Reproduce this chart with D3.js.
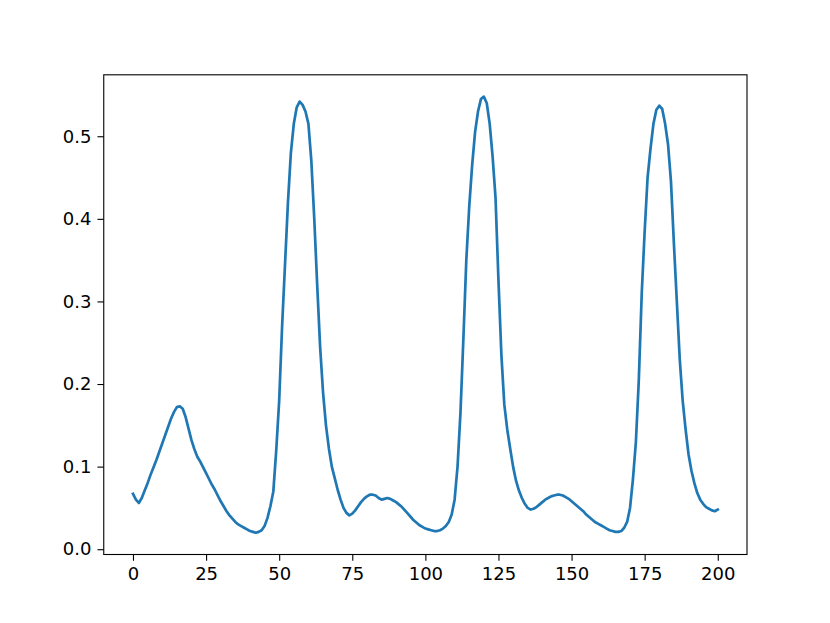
<!DOCTYPE html>
<html>
<head>
<meta charset="utf-8">
<script src="https://cdn.jsdelivr.net/npm/d3@7"></script>
<style>
  body { margin: 0; background: #fff; }
  text { font-family: "DejaVu Sans", sans-serif; }
</style>
</head>
<body>
<div id="chart"></div>
<script>
// signal values, one per step (x = 0..200)
const values = [
  0.067, 0.060, 0.056, 0.062, 0.071, 0.080, 0.090, 0.099, 0.108, 0.118,
  0.128, 0.138, 0.148, 0.158, 0.166, 0.172, 0.173, 0.170, 0.160, 0.146,
  0.132, 0.121, 0.112, 0.106, 0.099, 0.092, 0.085, 0.078, 0.072, 0.065,
  0.058, 0.052, 0.046, 0.041, 0.037, 0.033, 0.030, 0.028, 0.026, 0.024,
  0.022, 0.021, 0.020, 0.021, 0.023, 0.028, 0.038, 0.052, 0.070, 0.120,
  0.180, 0.270, 0.345, 0.420, 0.480, 0.515, 0.535, 0.542, 0.538, 0.530,
  0.515, 0.470, 0.400, 0.320, 0.245, 0.190, 0.150, 0.122, 0.100, 0.086,
  0.072, 0.060, 0.050, 0.044, 0.041, 0.043, 0.047, 0.052, 0.057, 0.061,
  0.064, 0.066, 0.066, 0.065, 0.062, 0.060, 0.061, 0.062, 0.061, 0.059,
  0.057, 0.054, 0.051, 0.047, 0.043, 0.039, 0.035, 0.032, 0.029, 0.027,
  0.025, 0.024, 0.023, 0.022, 0.022, 0.023, 0.025, 0.028, 0.033, 0.042,
  0.060, 0.100, 0.165, 0.255, 0.350, 0.415, 0.465, 0.505, 0.530, 0.545,
  0.548, 0.540, 0.515, 0.475, 0.425, 0.325, 0.235, 0.175, 0.145, 0.122,
  0.100, 0.083, 0.071, 0.062, 0.055, 0.050, 0.048, 0.049, 0.051, 0.054,
  0.057, 0.060, 0.062, 0.064, 0.065, 0.066, 0.066, 0.065, 0.063, 0.061,
  0.058, 0.055, 0.052, 0.049, 0.046, 0.042, 0.039, 0.036, 0.033, 0.031,
  0.029, 0.027, 0.025, 0.023, 0.022, 0.021, 0.021, 0.022, 0.026, 0.033,
  0.050, 0.085, 0.130, 0.205, 0.310, 0.385, 0.450, 0.485, 0.515, 0.532,
  0.537, 0.533, 0.515, 0.490, 0.445, 0.370, 0.300, 0.230, 0.180, 0.145,
  0.115, 0.095, 0.080, 0.068, 0.060, 0.055, 0.051, 0.049, 0.047, 0.046,
  0.048
];
const steps = d3.range(values.length);
const xTicks = [0, 25, 50, 75, 100, 125, 150, 175, 200];
const yTicks = [0.0, 0.1, 0.2, 0.3, 0.4, 0.5];

const svgWidth = 830;
const svgHeight = 623;
const margin = { top: 74.8, right: 83, bottom: 68.5, left: 103.75 };
const width = svgWidth - margin.left - margin.right;
const height = svgHeight - margin.top - margin.bottom;

const svg = d3.select("#chart")
  .append("svg")
  .attr("width", svgWidth)
  .attr("height", svgHeight);

const chartGroup = svg.append("g")
  .attr("transform", `translate(${margin.left}, ${margin.top})`);

// matplotlib-like 5% margins
const xMin = d3.min(steps), xMax = d3.max(steps);
const xPad = (xMax - xMin) * 0.05;
const yMin = d3.min(values), yMax = d3.max(values);
const yPad = (yMax - yMin) * 0.05;

const xScale = d3.scaleLinear()
  .domain([xMin - xPad, xMax + xPad])
  .range([0, width]);

const yScale = d3.scaleLinear()
  .domain([yMin - yPad, yMax + yPad])
  .range([height, 0]);

const bottomAxis = d3.axisBottom(xScale)
  .tickValues(xTicks)
  .tickSize(6.3)
  .tickPadding(6)
  .tickFormat(d3.format("d"));

const leftAxis = d3.axisLeft(yScale)
  .tickValues(yTicks)
  .tickSize(6.3)
  .tickPadding(6)
  .tickFormat(d3.format(".1f"));

const xAxisG = chartGroup.append("g")
  .attr("transform", `translate(0, ${height})`)
  .call(bottomAxis);

const yAxisG = chartGroup.append("g")
  .call(leftAxis);

[xAxisG, yAxisG].forEach(g => {
  g.select(".domain").remove();
  g.selectAll(".tick line").attr("stroke", "#000").attr("stroke-width", 1.1);
  g.selectAll(".tick text")
    .attr("fill", "#000")
    .style("font-size", "18px")
    .style("font-family", "'DejaVu Sans', sans-serif");
});

// the line
const line = d3.line()
  .x((d, i) => xScale(steps[i]))
  .y(d => yScale(d));

chartGroup.append("path")
  .datum(values)
  .attr("fill", "none")
  .attr("stroke", "#1f77b4")
  .attr("stroke-width", 2.7)
  .attr("stroke-linejoin", "round")
  .attr("stroke-linecap", "square")
  .attr("d", line);

// frame
chartGroup.append("rect")
  .attr("x", 0)
  .attr("y", 0)
  .attr("width", width)
  .attr("height", height)
  .attr("fill", "none")
  .attr("stroke", "#000")
  .attr("stroke-width", 1.1);
</script>
</body>
</html>
